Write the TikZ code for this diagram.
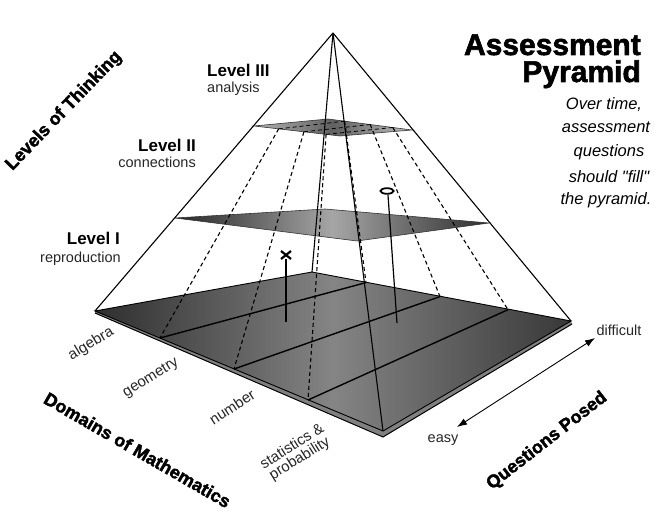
\documentclass[tikz,border=0pt]{standalone}
\usepackage{fontspec}
\setmainfont{Liberation Sans}
\newfontfamily\heavyfont{Liberation Sans}[BoldFeatures={FakeBold=2}]
\newfontfamily\notefont{Liberation Sans}[Ligatures=TeXOff]
\usetikzlibrary{arrows.meta}
\begin{document}
\begin{tikzpicture}[x=1pt,y=-1pt,
  edge/.style={line width=1.1pt},
  gridline/.style={line width=1.4pt},
  dashline/.style={line width=1.1pt, dash pattern=on 4pt off 3pt},
  heavy/.style={font=\heavyfont\bfseries\fontsize{18}{20}\selectfont, inner sep=0pt},
  titlefont/.style={font=\heavyfont\bfseries\fontsize{30}{30}\selectfont, inner sep=0pt},
  lvl/.style={font=\bfseries\fontsize{17}{19}\selectfont, inner sep=0pt},
  sub/.style={font=\fontsize{14.5}{16}\selectfont, inner sep=0pt, text=black!85},
  dom/.style={font=\fontsize{15}{14}\selectfont, inner sep=0pt, text=black!85},
  note/.style={font=\notefont\itshape\fontsize{16.5}{20}\selectfont, inner sep=0pt},
  marker/.style={line width=2.2pt},
  stem/.style={line width=1.2pt}
]
\useasboundingbox (0,0) rectangle (655,526);

% pyramid corners
\coordinate (A) at (333,33);
\coordinate (L) at (95,311);
\coordinate (B) at (312,272);
\coordinate (R) at (571,321);
\coordinate (F) at (383,431);
\coordinate (Lb) at (95,313);
\coordinate (Fb) at (383,437);
\coordinate (Rb) at (572,324);

% base (Level I) with bevel
\fill[black!50] (L) -- (F) -- (R) -- (Rb) -- (Fb) -- (Lb) -- cycle;
\draw[line width=1pt] (Lb) -- (Fb) -- (Rb);
\shade[left color=black!82, right color=black!78, middle color=black!48] (L) -- (B) -- (R) -- (F) -- cycle;
\draw[line width=0.9pt] (L) -- (B) -- (R) -- (F) -- cycle;

% domain grid on base
\coordinate (d1) at (160,338);
\coordinate (d2) at (234,369);
\coordinate (d3) at (308,400);
\coordinate (e1) at (366,282.6);
\coordinate (e2) at (440,296.6);
\coordinate (e3) at (508,309.7);
\draw[gridline] (d1) -- (e1);
\draw[gridline] (d2) -- (e2);
\draw[gridline] (d3) -- (e3);

% Level II plane
\coordinate (L2) at (175,218);
\coordinate (B2) at (325,209);
\coordinate (R2) at (489,223);
\coordinate (F2) at (357,241);
\shade[left color=black!85, right color=black!82, middle color=black!35] (L2) -- (B2) -- (R2) -- (F2) -- cycle;
\draw[line width=0.6pt, black!80] (L2) -- (B2) -- (R2) -- (F2) -- cycle;

% Level III plane
\coordinate (L3) at (254,126);
\coordinate (B3) at (328,119);
\coordinate (R3) at (412,130);
\coordinate (F3) at (340,136);
\shade[left color=black!30, right color=black!25, middle color=black!62] (L3) -- (B3) -- (R3) -- (F3) -- cycle;
\draw[line width=0.6pt, black!80] (L3) -- (B3) -- (R3) -- (F3) -- cycle;

% dashed lines from Level III to base grid points
\coordinate (u1) at (intersection of A--d1 and L3--F3);
\coordinate (u2) at (intersection of A--d2 and L3--F3);
\coordinate (u3) at (intersection of A--d3 and L3--F3);
\coordinate (v1) at (intersection of A--e1 and B3--R3);
\coordinate (v2) at (intersection of A--e2 and B3--R3);
\coordinate (v3) at (intersection of A--e3 and B3--R3);
\draw[dashline] (u1) -- (d1);
\draw[dashline] (u2) -- (d2);
\draw[dashline] (u3) -- (d3);
\draw[dashline] (v1) -- (e1);
\draw[dashline] (v2) -- (e2);
\draw[dashline] (v3) -- (e3);
\draw[dashline, line width=0.8pt] (u1) -- (v1);
\draw[dashline, line width=0.8pt] (u2) -- (v2);
\draw[dashline, line width=0.8pt] (u3) -- (v3);

% pyramid edges
\draw[edge] (A) -- (L);
\draw[edge] (A) -- (R);
\draw[edge] (A) -- (B);
\draw[edge] (A) -- (F);

% markers
\coordinate (xm) at (286,255);
\coordinate (xs) at (286,322);
\draw[marker] (281,251) -- (291,259) (281,259) -- (291,251);
\draw[stem] (286,259) -- (xs);
\coordinate (om) at (387,191);
\coordinate (os) at (397,323);
\draw[line width=1.8pt] (om) ellipse [x radius=6.5pt, y radius=2.8pt];
\draw[stem] (388,195) -- (os);

% difficulty arrow
\coordinate (ea) at (457,427);
\coordinate (da) at (595,338);
\draw[line width=0.9pt, {Latex[length=10pt,width=7pt]}-{Latex[length=10pt,width=7pt]}] (ea) -- (da);

% title
\node[titlefont, anchor=base east] (t1) at (641,55) {Assessment};
\node[titlefont, anchor=base east] (t2) at (641,82) {Pyramid};

% note
\node[note, anchor=base] (n1) at (604,110) {Over time,};
\node[note, anchor=base] (n2) at (606,133) {assessment};
\node[note, anchor=base] (n3) at (609,157) {questions};
\node[note, anchor=base] (n4) at (609,183) {should "fill"};
\node[note, anchor=base] (n5) at (606,205) {the pyramid.};

% axis titles
\node[heavy, rotate=46] (lt) at (64,111) {Levels of Thinking};
\node[heavy, rotate=-30] (dm) at (137.5,450) {Domains of Mathematics};
\node[heavy, rotate=38] (qp) at (547,441) {Questions Posed};

% level labels
\node[lvl, anchor=base west] (l3) at (207,77) {Level III};
\node[sub, anchor=base west] (l3s) at (207,93) {analysis};
\node[lvl, anchor=base east] (l2) at (196,152) {Level II};
\node[sub, anchor=base east] (l2s) at (196,168) {connections};
\node[lvl, anchor=base east] (l1) at (120,245) {Level I};
\node[sub, anchor=base east] (l1s) at (121,262) {reproduction};

% domain labels
\node[dom, rotate=31] (da1) at (91,344) {algebra};
\node[dom, rotate=32] (da2) at (151,378) {geometry};
\node[dom, rotate=33] (da3) at (232,407) {number};
\node[dom, rotate=32, align=center] (da4) at (296,453) {statistics \&\\probability};

% difficulty labels
\node[sub] (dif) at (619,330) {difficult};
\node[sub] (eas) at (443,440) {easy};
\end{tikzpicture}
\end{document}
